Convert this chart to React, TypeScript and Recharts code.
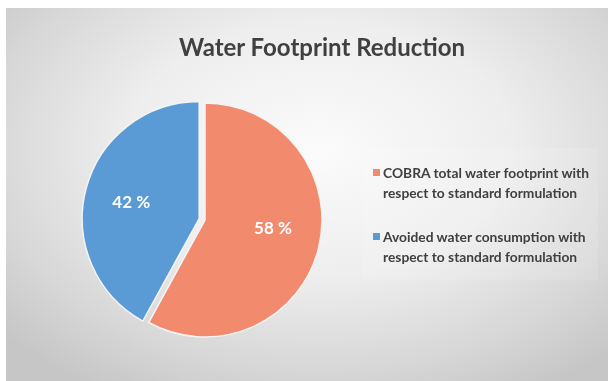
import { PieChart, Pie, Cell } from "recharts";

const TITLE = "Water Footprint Reduction";
const CATEGORIES = [
  "COBRA total water footprint with respect to standard formulation",
  "Avoided water consumption with respect to standard formulation",
];
const LEGEND_LINES = [
  ["COBRA total water footprint with", "respect to standard formulation"],
  ["Avoided water consumption with", "respect to standard formulation"],
];
const SHARES = [58, 42];
const COLORS = ["#F28A6E", "#5B9BD5"];

const data = CATEGORIES.map((name, i) => ({ name, value: SHARES[i] }));

const FONT = "Lato, 'Open Sans', sans-serif";
const CX = 199;
const CY = 212;
const RADIUS = 117;
const EXPLODE = 6; // the blue slice is pulled out along its mid-angle
const LABEL_NUDGE = [-10, 0];

const total = SHARES.reduce((s, v) => s + v, 0);
const blueMid = 90 - (360 * (SHARES[0] + SHARES[1] / 2)) / total;
const RAD = Math.PI / 180;
const bx = CX + EXPLODE * Math.cos(blueMid * RAD);
const by = CY - EXPLODE * Math.sin(blueMid * RAD);

const renderLabel = (visible: number) => (props: any) => {
  if (props.index !== visible) return null;
  const r = props.outerRadius * 0.6;
  const x = props.cx + r * Math.cos(-props.midAngle * RAD);
  const y = props.cy + r * Math.sin(-props.midAngle * RAD) + LABEL_NUDGE[props.index];
  return (
    <text
      x={x}
      y={y}
      fill="#fff"
      fontFamily={FONT}
      fontWeight={700}
      fontSize={17}
      textAnchor="middle"
      dominantBaseline="central"
    >
      {`${SHARES[props.index]} %`}
    </text>
  );
};

function slicePie(visible: number, cx: number, cy: number) {
  return (
    <Pie
      data={data}
      dataKey="value"
      nameKey="name"
      cx={cx}
      cy={cy}
      outerRadius={RADIUS}
      startAngle={90}
      endAngle={-270}
      label={renderLabel(visible)}
      labelLine={false}
      isAnimationActive={false}
    >
      {data.map((_, i) => (
        <Cell
          key={i}
          fill={i === visible ? COLORS[i] : "none"}
          stroke={i === visible ? "#F4F4F4" : "none"}
          strokeWidth={1.5}
        />
      ))}
    </Pie>
  );
}

export default function App() {
  return (
    <div style={{ position: "fixed", left: 0, top: 0, width: 608, height: 381, background: "#fff" }}>
      <div
        style={{
          position: "absolute",
          left: 6,
          top: 8,
          width: 602,
          height: 373,
          background:
            "radial-gradient(ellipse 70% 75% at 52% 38%, #fbfbfb 0%, #eeeeee 45%, #d6d6d6 80%, #c6c6c6 100%)",
        }}
      >
        <div
          style={{
            position: "absolute",
            left: 0,
            top: 24,
            width: 632,
            textAlign: "center",
            fontFamily: FONT,
            fontWeight: 700,
            fontSize: 24,
            color: "#404040",
          }}
        >
          {TITLE}
        </div>
        <PieChart width={602} height={373} margin={{ top: 0, right: 0, bottom: 0, left: 0 }}>
          {slicePie(0, CX, CY)}
          {slicePie(1, bx, by)}
        </PieChart>
        <div
          style={{
            position: "absolute",
            left: 357,
            top: 140,
            width: 235,
            height: 132,
            background: "rgba(255,255,255,0.12)",
          }}
        />
        <div style={{ position: "absolute", left: 367, top: 155, fontFamily: FONT, fontWeight: 700, fontSize: 13.8, color: "#404040" }}>
          {LEGEND_LINES.map((lines, i) => (
            <div key={i} style={{ position: "relative", paddingLeft: 10, marginBottom: 24, lineHeight: "20px" }}>
              <span
                style={{
                  position: "absolute",
                  left: 0,
                  top: 6,
                  width: 7,
                  height: 7,
                  background: COLORS[i],
                }}
              />
              {lines.map((t, j) => (
                <div key={j} style={{ whiteSpace: "nowrap" }}>
                  {t}
                </div>
              ))}
            </div>
          ))}
        </div>
      </div>
    </div>
  );
}
